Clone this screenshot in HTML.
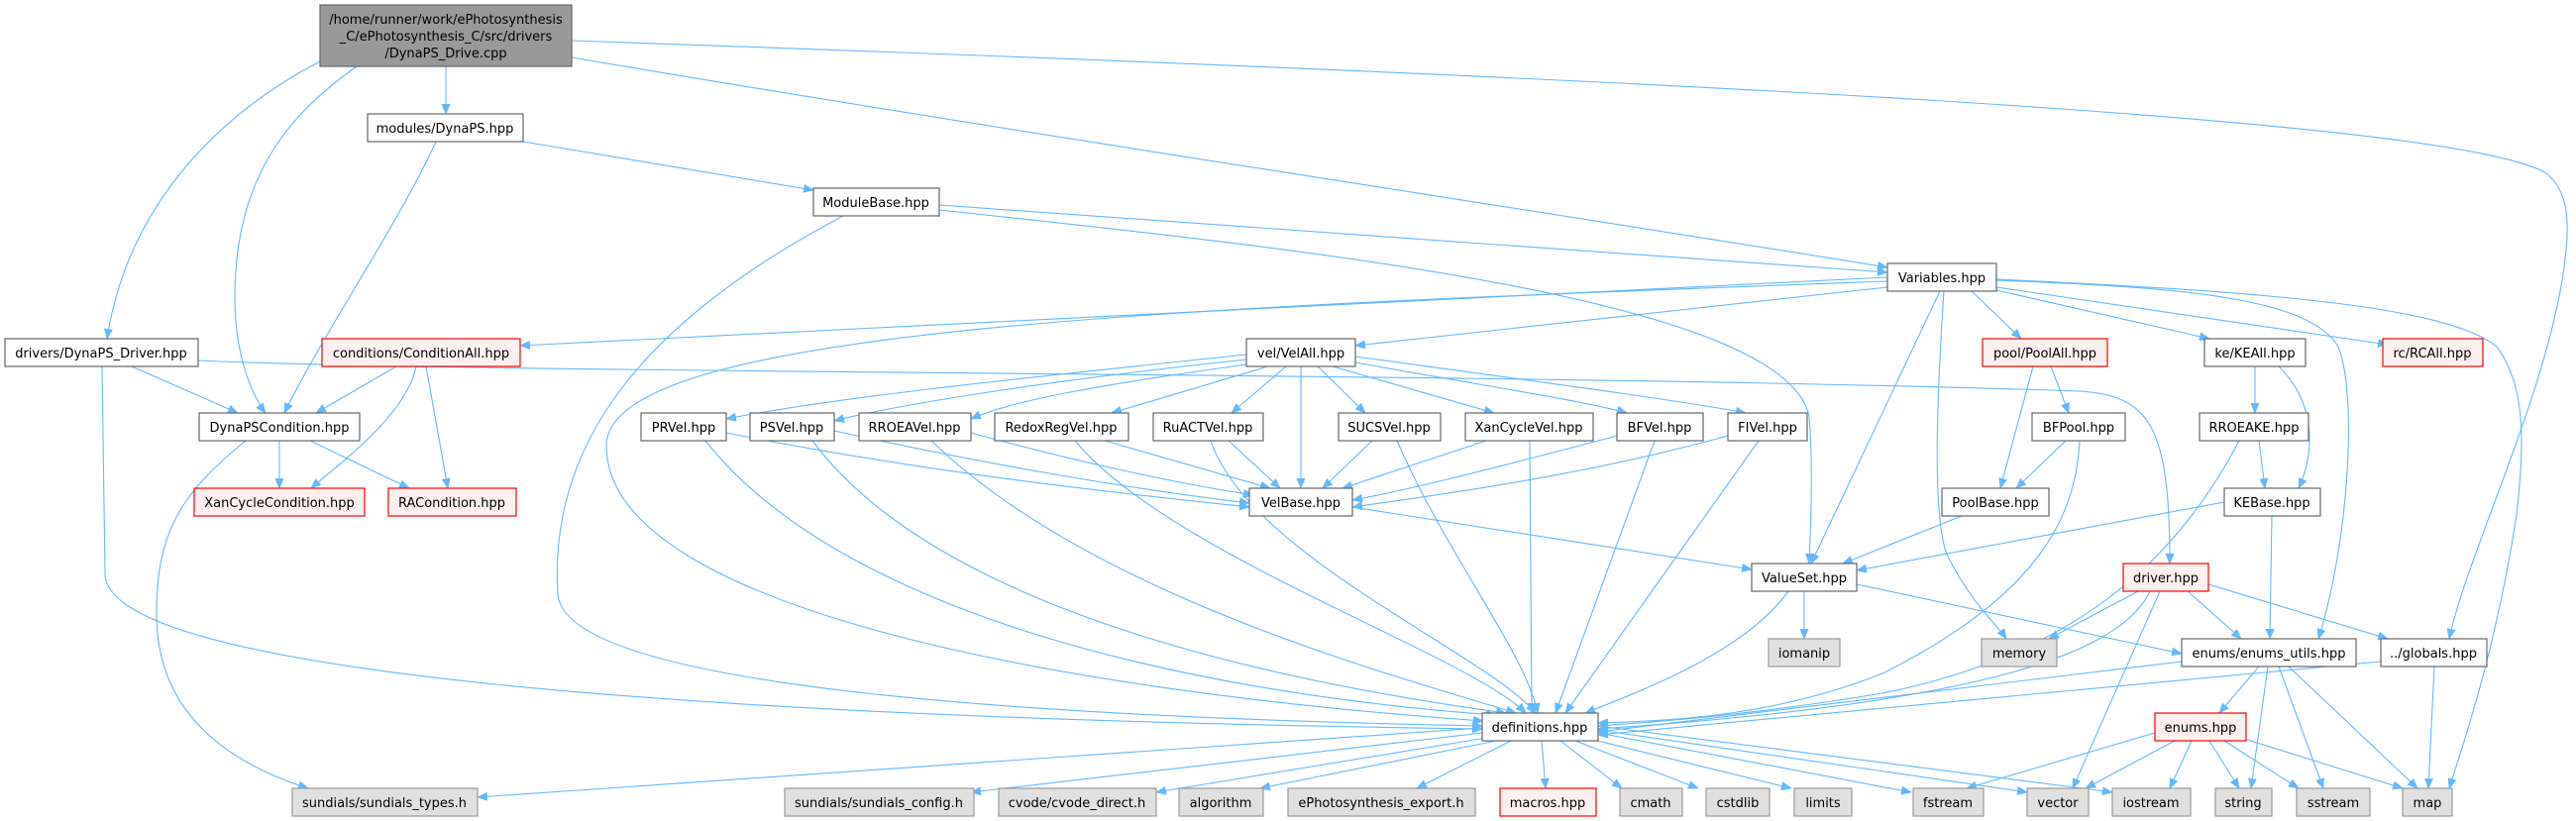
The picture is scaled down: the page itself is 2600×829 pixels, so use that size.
<!DOCTYPE html>
<html><head><meta charset="utf-8"><style>
html,body{margin:0;padding:0;background:#fff;}
svg{display:block;}
text{font-family:"DejaVu Sans","Liberation Sans",sans-serif;font-size:13px;fill:#000;text-anchor:middle;}
.e{fill:none;stroke:#63b8ff;stroke-width:1.1;marker-end:url(#a);}
.n{fill:#fff;stroke:#666;stroke-width:1.2;}
.r{fill:#fff0f0;stroke:#f00;stroke-width:1.2;}
.g{fill:#e0e0e0;stroke:#999;stroke-width:1.2;}
</style></head><body>
<svg width="2600" height="829" viewBox="0 0 2600 829" xmlns="http://www.w3.org/2000/svg">
<defs><marker id="a" markerWidth="11" markerHeight="9" refX="10" refY="4.5" orient="auto" markerUnits="userSpaceOnUse"><path d="M0,0 L11,4.5 L0,9 z" fill="#63b8ff"/></marker></defs>
<g>
<path class="e" d="M323,62 C230,110 130,200 108,342"/>
<path class="e" d="M360,67 C300,110 237,170 237,300 C237,360 255,400 268,417"/>
<path class="e" d="M450,67 L450,115"/>
<path class="e" d="M577,58 C1000,130 1600,220 1905,270"/>
<path class="e" d="M577,41 C1700,80 2480,120 2570,175 C2595,195 2593,230 2588,270 C2570,400 2490,560 2472,645"/>
<path class="e" d="M440,143 C400,230 330,330 287,417"/>
<path class="e" d="M528,143 L821,192"/>
<path class="e" d="M851,218 C620,340 555,470 563,600 C570,700 1100,725 1496,733"/>
<path class="e" d="M948,207 L1905,275"/>
<path class="e" d="M948,212 C1300,250 1800,300 1826,420 C1830,470 1828,520 1826,569"/>
<path class="e" d="M133,370 L240,417"/>
<path class="e" d="M103,370 L106,580 C110,680 700,725 1496,736"/>
<path class="e" d="M200,364 C500,378 1500,375 2100,395 C2170,400 2190,430 2190,569"/>
<path class="e" d="M400,370 L319,417"/>
<path class="e" d="M420,370 C410,420 340,470 314,493"/>
<path class="e" d="M430,370 L452,493"/>
<path class="e" d="M282,445 L282,493"/>
<path class="e" d="M313,445 L413,493"/>
<path class="e" d="M248,445 C180,500 158,540 158,620 C158,720 230,770 311,796"/>
<path class="e" d="M1905,280 L525,349"/>
<path class="e" d="M1905,284 C1200,310 612,330 612,450 C612,620 1100,700 1497,728"/>
<path class="e" d="M1905,290 L1368,349"/>
<path class="e" d="M1958,294 L1828,569"/>
<path class="e" d="M1962,294 C1955,400 1950,520 1965,560 C1990,610 2015,630 2025,645"/>
<path class="e" d="M1990,294 L2040,342"/>
<path class="e" d="M2015,293 L2230,342"/>
<path class="e" d="M2015,290 L2410,348"/>
<path class="e" d="M2015,283 C2200,290 2330,300 2360,350 C2380,400 2370,550 2340,645"/>
<path class="e" d="M2015,282 C2300,295 2470,310 2520,350 C2550,390 2548,450 2540,520 C2520,650 2490,740 2472,796"/>
<path class="e" d="M1258,358 C1050,380 850,400 733,423"/>
<path class="e" d="M1258,363 C1050,385 900,410 842,425"/>
<path class="e" d="M1265,367 C1100,390 1020,405 980,423"/>
<path class="e" d="M1280,370 L1122,417"/>
<path class="e" d="M1298,370 L1243,417"/>
<path class="e" d="M1313,370 L1313,493"/>
<path class="e" d="M1330,370 L1378,417"/>
<path class="e" d="M1345,370 L1508,417"/>
<path class="e" d="M1368,366 C1500,390 1600,405 1642,417"/>
<path class="e" d="M1368,360 C1550,385 1700,405 1762,417"/>
<path class="e" d="M733,437 C950,480 1150,500 1261,512"/>
<path class="e" d="M842,435 C1000,470 1150,495 1261,508"/>
<path class="e" d="M980,437 C1100,470 1200,490 1265,500"/>
<path class="e" d="M1115,445 L1282,493"/>
<path class="e" d="M1240,445 L1292,493"/>
<path class="e" d="M1385,445 L1335,493"/>
<path class="e" d="M1500,445 L1355,493"/>
<path class="e" d="M1632,440 C1500,475 1420,495 1365,505"/>
<path class="e" d="M1744,440 C1600,480 1450,500 1365,512"/>
<path class="e" d="M712,445 C850,620 1200,700 1510,722"/>
<path class="e" d="M820,445 C950,620 1300,690 1520,720"/>
<path class="e" d="M940,445 C1100,600 1400,680 1530,720"/>
<path class="e" d="M1085,445 C1180,560 1480,660 1540,720"/>
<path class="e" d="M1222,445 C1260,560 1500,660 1550,720"/>
<path class="e" d="M1410,445 C1460,560 1540,660 1552,720"/>
<path class="e" d="M1544,445 L1546,720"/>
<path class="e" d="M1670,445 L1570,720"/>
<path class="e" d="M1775,445 L1580,720"/>
<path class="e" d="M1365,512 L1768,575"/>
<path class="e" d="M2052,370 L2019,493"/>
<path class="e" d="M2070,370 L2088,417"/>
<path class="e" d="M2085,445 L2035,493"/>
<path class="e" d="M2099,445 C2095,520 2060,600 1900,680 C1800,720 1700,728 1613,730"/>
<path class="e" d="M1980,521 L1860,569"/>
<path class="e" d="M2276,370 L2276,417"/>
<path class="e" d="M2300,370 C2340,410 2335,460 2320,493"/>
<path class="e" d="M2280,445 L2286,493"/>
<path class="e" d="M2260,445 C2200,560 2100,660 1900,700 C1750,725 1650,730 1613,733"/>
<path class="e" d="M2245,507 L1874,576"/>
<path class="e" d="M2293,521 L2291,645"/>
<path class="e" d="M1821,597 L1821,645"/>
<path class="e" d="M1805,597 C1760,660 1650,700 1600,720"/>
<path class="e" d="M1874,590 L2202,660"/>
<path class="e" d="M2158,597 L2068,645"/>
<path class="e" d="M2170,597 C2140,660 2000,710 1613,736"/>
<path class="e" d="M2180,597 L2092,796"/>
<path class="e" d="M2208,597 L2262,645"/>
<path class="e" d="M2229,590 L2410,645"/>
<path class="e" d="M2202,668 L1613,739"/>
<path class="e" d="M2280,673 L2240,720"/>
<path class="e" d="M2289,673 L2272,796"/>
<path class="e" d="M2300,673 L2345,796"/>
<path class="e" d="M2310,673 L2440,796"/>
<path class="e" d="M2403,668 L1613,742"/>
<path class="e" d="M2457,673 L2451,796"/>
<path class="e" d="M2175,740 L1985,796"/>
<path class="e" d="M2195,748 L2105,796"/>
<path class="e" d="M2212,748 L2190,796"/>
<path class="e" d="M2230,748 L2260,796"/>
<path class="e" d="M2245,748 L2320,796"/>
<path class="e" d="M2262,745 L2425,796"/>
<path class="e" d="M1496,735 L482,805"/>
<path class="e" d="M1496,740 L980,800"/>
<path class="e" d="M1500,745 L1167,800"/>
<path class="e" d="M1510,748 L1272,796"/>
<path class="e" d="M1525,748 L1430,796"/>
<path class="e" d="M1556,748 L1560,796"/>
<path class="e" d="M1575,748 L1637,796"/>
<path class="e" d="M1590,748 L1714,796"/>
<path class="e" d="M1600,745 L1808,796"/>
<path class="e" d="M1613,740 L1929,800"/>
<path class="e" d="M1613,737 L2046,800"/>
<path class="e" d="M1613,733 L2132,800"/>
</g>
<g>
<rect x="323" y="5" width="254" height="62" fill="#999" stroke="#666" stroke-width="1.2"/>
<text x="450" y="24">/home/runner/work/ePhotosynthesis</text>
<text x="450" y="41">_C/ePhotosynthesis_C/src/drivers</text>
<text x="450" y="58">/DynaPS_Drive.cpp</text>

<rect class="n" x="371" y="115" width="157" height="28"/><text x="449" y="134">modules/DynaPS.hpp</text>
<rect class="n" x="821" y="190" width="127" height="28"/><text x="884" y="209">ModuleBase.hpp</text>
<rect class="n" x="1905" y="266" width="110" height="28"/><text x="1960" y="285">Variables.hpp</text>

<rect class="n" x="5" y="342" width="195" height="28"/><text x="102" y="361">drivers/DynaPS_Driver.hpp</text>
<rect class="r" x="325" y="342" width="200" height="28"/><text x="425" y="361">conditions/ConditionAll.hpp</text>
<rect class="n" x="1258" y="342" width="110" height="28"/><text x="1313" y="361">vel/VelAll.hpp</text>
<rect class="r" x="2001" y="342" width="126" height="28"/><text x="2064" y="361">pool/PoolAll.hpp</text>
<rect class="n" x="2225" y="342" width="102" height="28"/><text x="2276" y="361">ke/KEAll.hpp</text>
<rect class="r" x="2405" y="342" width="101" height="28"/><text x="2455" y="361">rc/RCAll.hpp</text>

<rect class="n" x="201" y="417" width="162" height="28"/><text x="282" y="436">DynaPSCondition.hpp</text>
<rect class="n" x="647" y="417" width="86" height="28"/><text x="690" y="436">PRVel.hpp</text>
<rect class="n" x="757" y="417" width="85" height="28"/><text x="799" y="436">PSVel.hpp</text>
<rect class="n" x="867" y="417" width="113" height="28"/><text x="923" y="436">RROEAVel.hpp</text>
<rect class="n" x="1004" y="417" width="135" height="28"/><text x="1071" y="436">RedoxRegVel.hpp</text>
<rect class="n" x="1164" y="417" width="111" height="28"/><text x="1219" y="436">RuACTVel.hpp</text>
<rect class="n" x="1351" y="417" width="103" height="28"/><text x="1402" y="436">SUCSVel.hpp</text>
<rect class="n" x="1479" y="417" width="129" height="28"/><text x="1543" y="436">XanCycleVel.hpp</text>
<rect class="n" x="1632" y="417" width="87" height="28"/><text x="1675" y="436">BFVel.hpp</text>
<rect class="n" x="1744" y="417" width="80" height="28"/><text x="1784" y="436">FIVel.hpp</text>
<rect class="n" x="2051" y="417" width="94" height="28"/><text x="2098" y="436">BFPool.hpp</text>
<rect class="n" x="2220" y="417" width="110" height="28"/><text x="2275" y="436">RROEAKE.hpp</text>

<rect class="r" x="196" y="493" width="172" height="28"/><text x="282" y="512">XanCycleCondition.hpp</text>
<rect class="r" x="392" y="493" width="129" height="28"/><text x="456" y="512">RACondition.hpp</text>
<rect class="n" x="1261" y="493" width="104" height="28"/><text x="1313" y="512">VelBase.hpp</text>
<rect class="n" x="1960" y="493" width="108" height="28"/><text x="2014" y="512">PoolBase.hpp</text>
<rect class="n" x="2245" y="493" width="97" height="28"/><text x="2293" y="512">KEBase.hpp</text>

<rect class="n" x="1768" y="569" width="106" height="28"/><text x="1821" y="588">ValueSet.hpp</text>
<rect class="r" x="2143" y="569" width="86" height="28"/><text x="2186" y="588">driver.hpp</text>

<rect class="g" x="1785" y="645" width="72" height="28"/><text x="1821" y="664">iomanip</text>
<rect class="g" x="2000" y="645" width="76" height="28"/><text x="2038" y="664">memory</text>
<rect class="n" x="2202" y="645" width="176" height="28"/><text x="2290" y="664">enums/enums_utils.hpp</text>
<rect class="n" x="2403" y="645" width="107" height="28"/><text x="2456" y="664">../globals.hpp</text>

<rect class="n" x="1496" y="720" width="117" height="28"/><text x="1554" y="739">definitions.hpp</text>
<rect class="r" x="2175" y="720" width="92" height="28"/><text x="2221" y="739">enums.hpp</text>

<rect class="g" x="295" y="796" width="187" height="28"/><text x="388" y="815">sundials/sundials_types.h</text>
<rect class="g" x="792" y="796" width="191" height="28"/><text x="887" y="815">sundials/sundials_config.h</text>
<rect class="g" x="1008" y="796" width="159" height="28"/><text x="1087" y="815">cvode/cvode_direct.h</text>
<rect class="g" x="1190" y="796" width="85" height="28"/><text x="1232" y="815">algorithm</text>
<rect class="g" x="1300" y="796" width="189" height="28"/><text x="1394" y="815">ePhotosynthesis_export.h</text>
<rect class="r" x="1514" y="796" width="97" height="28"/><text x="1562" y="815">macros.hpp</text>
<rect class="g" x="1635" y="796" width="63" height="28"/><text x="1666" y="815">cmath</text>
<rect class="g" x="1722" y="796" width="64" height="28"/><text x="1754" y="815">cstdlib</text>
<rect class="g" x="1811" y="796" width="58" height="28"/><text x="1840" y="815">limits</text>
<rect class="g" x="1931" y="796" width="71" height="28"/><text x="1966" y="815">fstream</text>
<rect class="g" x="2046" y="796" width="62" height="28"/><text x="2077" y="815">vector</text>
<rect class="g" x="2132" y="796" width="79" height="28"/><text x="2171" y="815">iostream</text>
<rect class="g" x="2236" y="796" width="57" height="28"/><text x="2264" y="815">string</text>
<rect class="g" x="2318" y="796" width="74" height="28"/><text x="2355" y="815">sstream</text>
<rect class="g" x="2425" y="796" width="50" height="28"/><text x="2450" y="815">map</text>
</g>
</svg>
</body></html>
